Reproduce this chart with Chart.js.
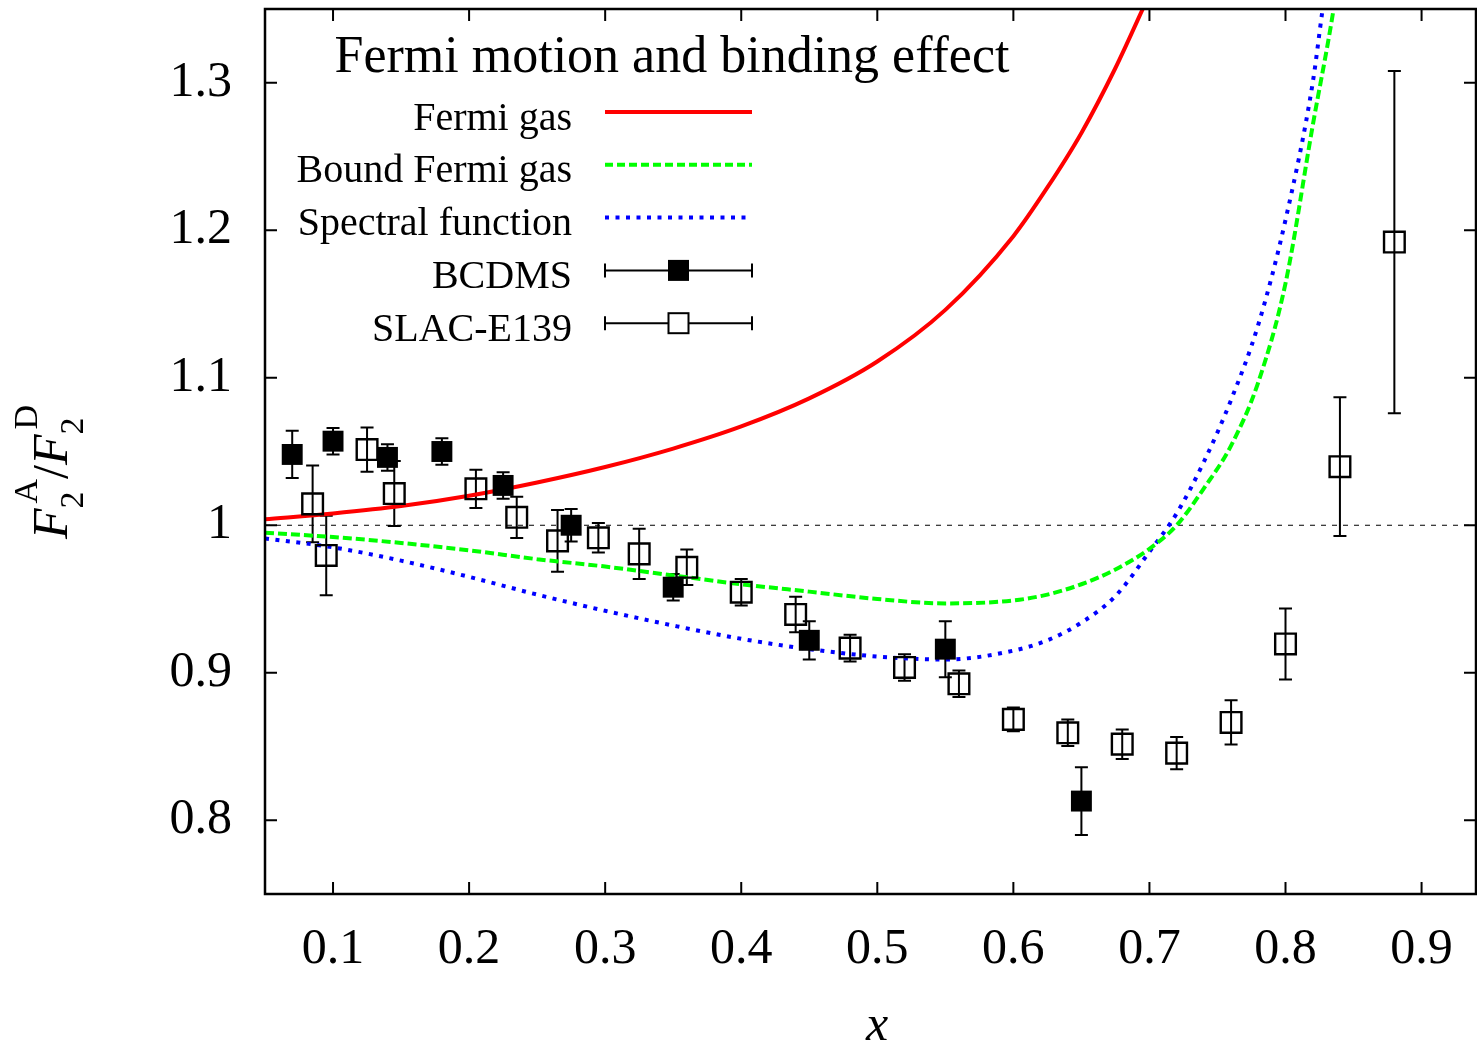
<!DOCTYPE html>
<html>
<head>
<meta charset="utf-8">
<script src="https://cdn.jsdelivr.net/npm/chart.js@4.4.1/dist/chart.umd.min.js"></script>
<style>
  html, body { margin: 0; padding: 0; background: #fff; overflow: hidden; }
  #wrap { width: 1477px; height: 1048px; }
</style>
</head>
<body>
<div id="wrap"><canvas id="myChart" width="1477" height="1048"></canvas></div>
<script>
// axis ticks
const xTicks = [0.1, 0.2, 0.3, 0.4, 0.5, 0.6, 0.7, 0.8, 0.9]
const yTicks = [0.8, 0.9, 1, 1.1, 1.2, 1.3]

// BCDMS (filled squares)
const bcdmsX = [0.07, 0.10, 0.14, 0.18, 0.225, 0.275, 0.35, 0.45, 0.55, 0.65]
const bcdmsY = [1.048, 1.057, 1.046, 1.050, 1.027, 1.000, 0.958, 0.922, 0.916, 0.813]
const bcdmsErr = [0.016, 0.009, 0.009, 0.009, 0.009, 0.011, 0.009, 0.013, 0.019, 0.023]

// SLAC-E139 (open squares)
const slacX = [0.085, 0.095, 0.125, 0.145, 0.205, 0.235, 0.265, 0.295, 0.325, 0.36, 0.40, 0.44,
  0.48, 0.52, 0.56, 0.60, 0.64, 0.68, 0.72, 0.76, 0.80, 0.84, 0.88]
const slacY = [1.0145, 0.9795, 1.0513, 1.0215, 1.0247, 1.0054, 0.9894, 0.9915, 0.9806, 0.9715, 0.9546, 0.9395,
  0.9167, 0.9036, 0.8925, 0.8684, 0.8593, 0.8516, 0.8455, 0.8663, 0.9195, 1.0397, 1.192]
const slacErr = [0.026, 0.027, 0.015, 0.022, 0.013, 0.014, 0.021, 0.010, 0.017, 0.012, 0.009, 0.012,
  0.009, 0.009, 0.009, 0.008, 0.009, 0.010, 0.011, 0.015, 0.024, 0.047, 0.116]

// model curves
const fermiX = [0.05, 0.10, 0.15, 0.20, 0.25, 0.30, 0.35, 0.40, 0.45, 0.50, 0.55, 0.60, 0.625, 0.65, 0.675, 0.70]
const fermiY = [1.004, 1.008, 1.013, 1.020, 1.029, 1.0395, 1.052, 1.067, 1.086, 1.111, 1.146, 1.196, 1.229, 1.266, 1.310, 1.360]

const boundX = [0.05, 0.10, 0.15, 0.20, 0.25, 0.30, 0.35, 0.40, 0.45, 0.50, 0.55, 0.60, 0.625, 0.65, 0.675,
  0.70, 0.72, 0.74, 0.76, 0.78, 0.80, 0.82, 0.835, 0.84]
const boundY = [0.995, 0.992, 0.988, 0.983, 0.977, 0.972, 0.966, 0.960, 0.955, 0.950, 0.947, 0.949, 0.953, 0.960, 0.970,
  0.984, 1.000, 1.025, 1.054, 1.097, 1.164, 1.271, 1.348, 1.38]

const spectralX = [0.05, 0.10, 0.15, 0.20, 0.25, 0.30, 0.35, 0.40, 0.45, 0.50, 0.55, 0.60, 0.625, 0.65, 0.675,
  0.70, 0.72, 0.74, 0.76, 0.78, 0.80, 0.82, 0.827, 0.835]
const spectralY = [0.991, 0.985, 0.976, 0.965, 0.953, 0.942, 0.932, 0.923, 0.916, 0.911, 0.909, 0.915, 0.922, 0.934, 0.952,
  0.982, 1.008, 1.043, 1.085, 1.136, 1.207, 1.300, 1.348, 1.40]

const serif = "'Liberation Serif', 'Times New Roman', serif"

const pts = (xs, ys) => xs.map((v, i) => ({ x: v, y: ys[i] }))

// error bars, drawn with the chart scales
const errorBars = {
  id: 'errorBars',
  beforeDatasetsDraw(chart) {
    const { ctx, scales: { x, y } } = chart
    ctx.save()
    ctx.strokeStyle = '#000'
    ctx.lineWidth = 2
    chart.data.datasets.forEach(ds => {
      if (!ds.errors) return
      ds.data.forEach((p, i) => {
        const px = x.getPixelForValue(p.x)
        const top = y.getPixelForValue(p.y + ds.errors[i])
        const bot = y.getPixelForValue(p.y - ds.errors[i])
        ctx.beginPath()
        ctx.moveTo(px, top); ctx.lineTo(px, bot)
        ctx.moveTo(px - 6.5, top); ctx.lineTo(px + 6.5, top)
        ctx.moveTo(px - 6.5, bot); ctx.lineTo(px + 6.5, bot)
        ctx.stroke()
      })
    })
    ctx.restore()
  }
}

// gnuplot-like frame, inward ticks, key and axis titles
const frame = {
  id: 'frame',
  afterDraw(chart) {
    const { ctx, chartArea: a, scales: { x, y } } = chart
    ctx.save()
    ctx.strokeStyle = '#000'
    ctx.lineWidth = 2.5
    ctx.strokeRect(a.left, a.top, a.right - a.left, a.bottom - a.top)

    ctx.lineWidth = 2
    ctx.beginPath()
    xTicks.forEach(v => {
      const px = x.getPixelForValue(v)
      ctx.moveTo(px, a.bottom); ctx.lineTo(px, a.bottom - 12)
      ctx.moveTo(px, a.top); ctx.lineTo(px, a.top + 12)
    })
    yTicks.forEach(v => {
      const py = y.getPixelForValue(v)
      ctx.moveTo(a.left, py); ctx.lineTo(a.left + 12, py)
      ctx.moveTo(a.right, py); ctx.lineTo(a.right - 12, py)
    })
    ctx.stroke()

    // key
    ctx.fillStyle = '#000'
    ctx.font = '52px ' + serif
    ctx.textAlign = 'center'
    ctx.textBaseline = 'alphabetic'
    ctx.fillText('Fermi motion and binding effect', 672, 72)

    const keyNames = ['Fermi gas', 'Bound Fermi gas', 'Spectral function', 'BCDMS', 'SLAC-E139']
    ctx.font = '40px ' + serif
    ctx.textAlign = 'right'
    keyNames.forEach((t, i) => {
      const ky = 112 + i * 52.8
      ctx.fillStyle = '#000'
      ctx.fillText(t, 572, ky + 17.5)
      ctx.beginPath()
      if (i < 3) {
        ctx.lineWidth = 4
        ctx.strokeStyle = ['#ff0000', '#00ff00', '#0000ff'][i]
        ctx.setLineDash([[], [8, 4], [4, 6.5]][i])
        ctx.moveTo(605, ky); ctx.lineTo(752, ky)
        ctx.stroke()
        ctx.setLineDash([])
      } else {
        ctx.lineWidth = 2
        ctx.strokeStyle = '#000'
        ctx.moveTo(605, ky); ctx.lineTo(752, ky)
        ctx.moveTo(605, ky - 7); ctx.lineTo(605, ky + 7)
        ctx.moveTo(752, ky - 7); ctx.lineTo(752, ky + 7)
        ctx.stroke()
        if (i === 3) {
          ctx.fillRect(668, ky - 10.5, 21, 21)
        } else {
          ctx.fillStyle = '#fff'
          ctx.fillRect(668.5, ky - 10, 20, 20)
          ctx.strokeRect(668.5, ky - 10, 20, 20)
        }
      }
    })

    // x title
    ctx.fillStyle = '#000'
    ctx.textAlign = 'center'
    ctx.font = 'italic 50px ' + serif
    ctx.fillText('x', 877, 1040)

    // y title F2^A / F2^D
    ctx.translate(67, 472)
    ctx.rotate(-Math.PI / 2)
    ctx.textAlign = 'left'
    const big = 'italic 50px ' + serif
    const up = '50px ' + serif
    const small = '34px ' + serif
    ctx.font = big
    const wF = ctx.measureText('F').width
    ctx.font = small
    const wA = ctx.measureText('A').width + 5
    const wD = ctx.measureText('D').width + 5
    ctx.font = up
    const wS = ctx.measureText('/').width
    let u = -(wF * 2 + wA + wD + wS) / 2
    ctx.font = big; ctx.fillText('F', u, 0); u += wF
    ctx.font = small; ctx.fillText('2', u, 16); ctx.fillText('A', u + 5, -30); u += wA
    ctx.font = up; ctx.fillText('/', u, 0); u += wS
    ctx.font = big; ctx.fillText('F', u, 0); u += wF
    ctx.font = small; ctx.fillText('2', u, 16); ctx.fillText('D', u + 5, -30)
    ctx.restore()
  }
}

const noPad = s => {
  s.paddingTop = 0
  s.paddingBottom = 0
  s.paddingLeft = 0
  s.paddingRight = 0
}

const ctx = document.getElementById('myChart')

new Chart(ctx, {
  type: 'scatter',
  data: {
    datasets: [
      {
        label: 'BCDMS',
        data: pts(bcdmsX, bcdmsY),
        errors: bcdmsErr,
        pointStyle: 'rect',
        pointRadius: 14.8,
        backgroundColor: '#000',
        borderWidth: 0,
        order: 0
      },
      {
        label: 'SLAC-E139',
        data: pts(slacX, slacY),
        errors: slacErr,
        pointStyle: 'rect',
        pointRadius: 14.6,
        backgroundColor: 'rgba(0,0,0,0)',
        borderColor: '#000',
        borderWidth: 2.4,
        order: 1
      },
      {
        label: 'Fermi gas',
        data: pts(fermiX, fermiY),
        showLine: true,
        borderColor: '#ff0000',
        borderWidth: 4,
        pointRadius: 0,
        cubicInterpolationMode: 'monotone',
        order: 2
      },
      {
        label: 'Bound Fermi gas',
        data: pts(boundX, boundY),
        showLine: true,
        borderColor: '#00ff00',
        borderWidth: 4,
        borderDash: [9, 4],
        pointRadius: 0,
        cubicInterpolationMode: 'monotone',
        order: 3
      },
      {
        label: 'Spectral function',
        data: pts(spectralX, spectralY),
        showLine: true,
        borderColor: '#0000ff',
        borderWidth: 4,
        borderDash: [4, 6.5],
        pointRadius: 0,
        cubicInterpolationMode: 'monotone',
        order: 4
      },
      {
        label: 'unity',
        data: [{ x: 0.05, y: 1 }, { x: 0.94, y: 1 }],
        showLine: true,
        borderColor: '#000',
        borderWidth: 1,
        borderDash: [5, 6],
        pointRadius: 0,
        order: 5
      }
    ]
  },
  options: {
    responsive: false,
    animation: false,
    devicePixelRatio: 1,
    events: [],
    layout: { autoPadding: false, padding: { top: 9, right: 1, left: 0, bottom: 0 } },
    plugins: {
      legend: { display: false },
      tooltip: { enabled: false }
    },
    scales: {
      x: {
        type: 'linear',
        min: 0.05,
        max: 0.94,
        afterFit: s => { s.height = 154; noPad(s) },
        afterBuildTicks: s => { s.ticks = xTicks.map(v => ({ value: v })) },
        grid: { display: false, drawTicks: false },
        border: { display: false },
        ticks: {
          autoSkip: false,
          maxRotation: 0,
          padding: 26,
          color: '#000',
          font: { family: serif, size: 50 },
          callback: v => String(v)
        }
      },
      y: {
        type: 'linear',
        min: 0.75,
        max: 1.35,
        afterFit: s => { s.width = 265; noPad(s) },
        afterBuildTicks: s => { s.ticks = yTicks.map(v => ({ value: v })) },
        grid: { display: false, drawTicks: false },
        border: { display: false },
        ticks: {
          autoSkip: false,
          padding: 33,
          color: '#000',
          font: { family: serif, size: 50 },
          callback: v => String(v)
        }
      }
    }
  },
  plugins: [errorBars, frame]
})
</script>
</body>
</html>
